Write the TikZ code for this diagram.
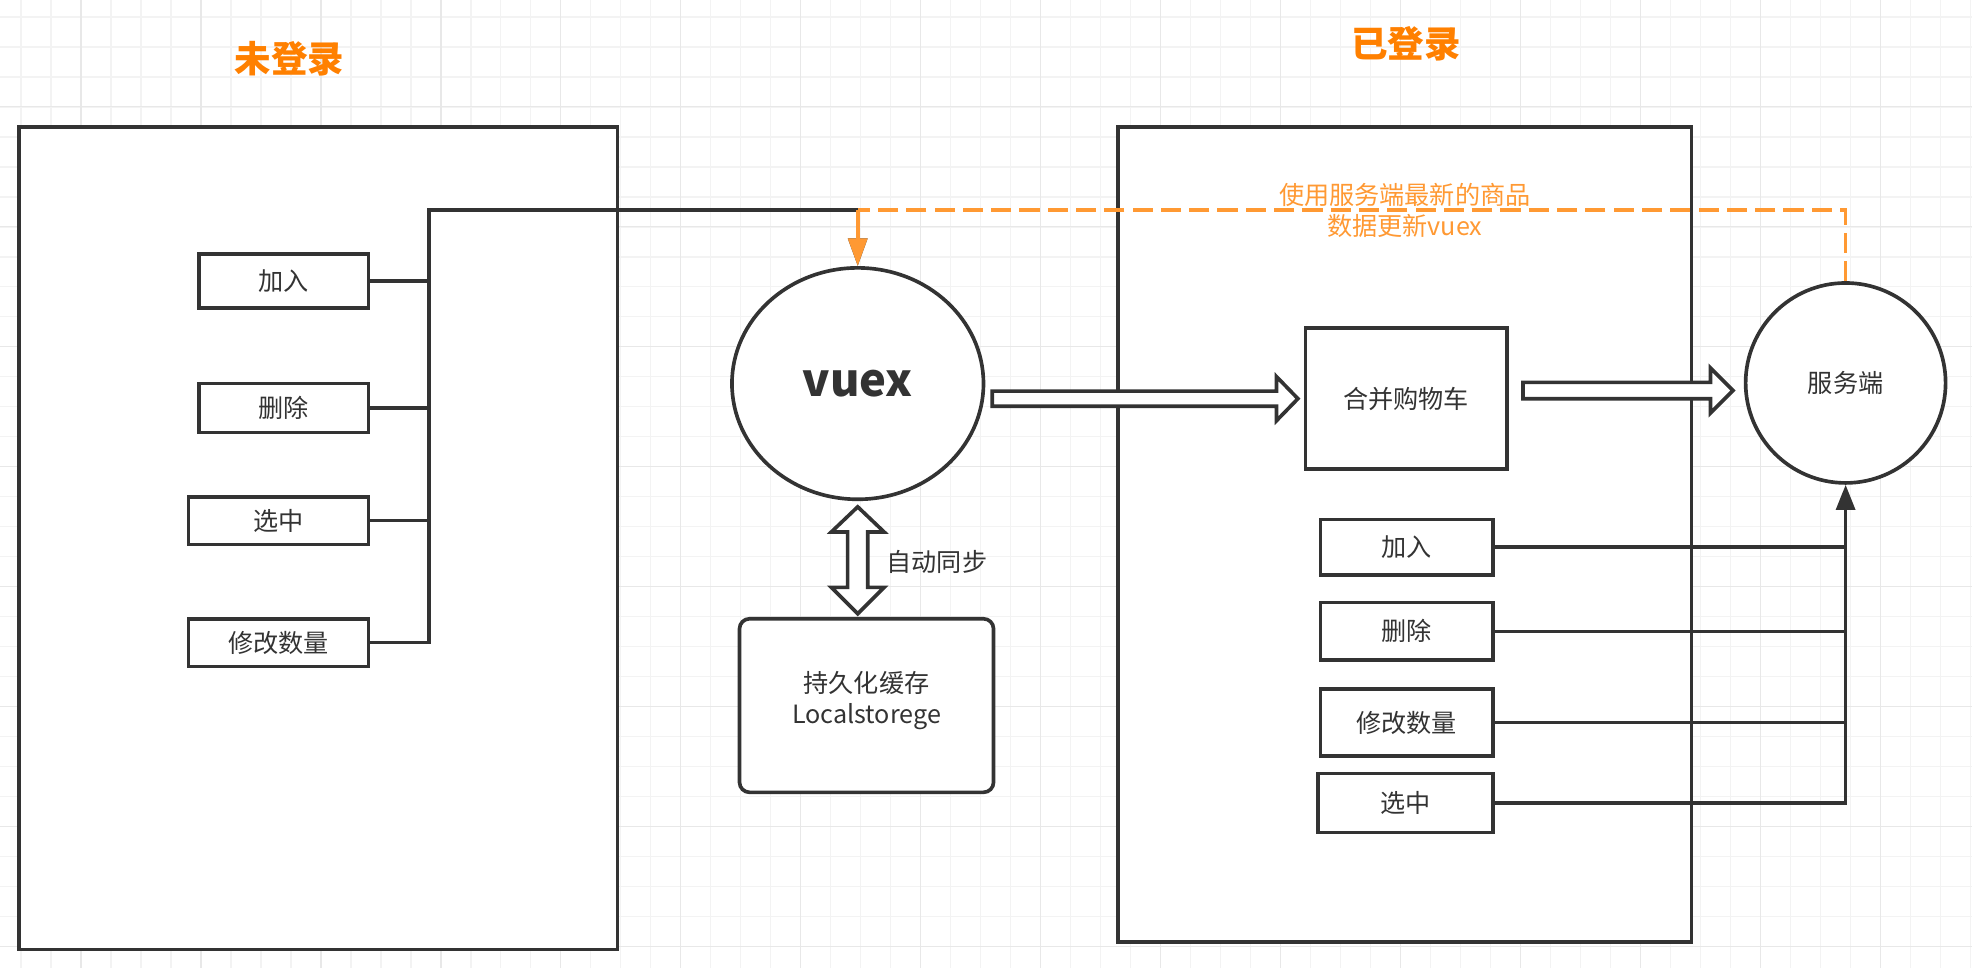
\documentclass[tikz,border=0pt]{standalone}
\usepackage{fontspec}
\setmainfont{Noto Sans CJK SC}
\usetikzlibrary{calc,arrows.meta,shapes.geometric}
\definecolor{ink}{HTML}{333333}
\definecolor{org}{HTML}{FF9933}
\definecolor{orgT}{HTML}{FF8000}
\definecolor{gridminor}{HTML}{F3F3F3}
\definecolor{gridmajor}{HTML}{E8E8E8}
\tikzset{
  lw/.style={line width=2.9pt},
  bigbox/.style={draw=ink, fill=white, lw, inner sep=0pt},
  smallbox/.style={draw=ink, fill=white, lw, inner sep=0pt, text=ink, font=\fontsize{20}{24}\selectfont},
  circ/.style={ellipse, draw=ink, fill=white, lw, inner sep=0pt, text=ink},
  wire/.style={draw=ink, lw},
  title/.style={text=orgT, font=\fontsize{29}{34}\selectfont\bfseries},
  blockarrow/.style={draw=ink, fill=white, lw, line join=miter},
}
\begin{document}
\begin{tikzpicture}[x=1pt,y=-1pt]
\useasboundingbox (0,0) rectangle (1568,770);
\fill[white] (0,0) rectangle (1568,770);
% grid
\foreach \i in {0,...,65} {\draw[gridminor, line width=0.9pt] ({16.7+23.85*\i},0) -- ++(0,770);}
\foreach \i in {0,...,32} {\draw[gridminor, line width=0.9pt] (0,{13.5+23.85*\i}) -- ++(1568,0);}
\foreach \i in {0,...,16} {\draw[gridmajor, line width=0.9pt] ({64.4+95.4*\i},0) -- ++(0,770);}
\foreach \i in {0,...,7} {\draw[gridmajor, line width=0.9pt] (0,{85+95.4*\i}) -- ++(1568,0);}

% titles
\node[title] (t1) at (230,47) {未登录};
\node[title] (t2) at (1118,35) {已登录};

% big boxes
\node[bigbox, minimum width=476pt, minimum height=654pt] (L) at (253,428) {};
\node[bigbox, minimum width=456pt, minimum height=648pt] (R) at (1117,425) {};

% left small boxes
\node[smallbox, minimum width=135pt, minimum height=43pt] (lj) at (225.5,223.5) {加入};
\node[smallbox, minimum width=135pt, minimum height=39pt] (ls) at (225.5,324.5) {删除};
\node[smallbox, minimum width=143pt, minimum height=38pt] (lx) at (221.5,414) {选中};
\node[smallbox, minimum width=143pt, minimum height=38pt] (lm) at (221.5,511) {修改数量};

% vuex and storage
\node[circ, minimum width=200pt, minimum height=184pt, font=\fontsize{36}{40}\selectfont\bfseries] (vuex) at (682,305) {vuex};
\node[smallbox, rounded corners=8pt, minimum width=202pt, minimum height=138pt, align=center, font=\fontsize{20}{25}\selectfont] (store) at (689,561) {持久化缓存\\[-1pt]Localstorege\\[-12pt]\mbox{}};
\node[text=ink, font=\fontsize{20}{24}\selectfont] (sync) at (745,447) {自动同步};

% right side
\node[smallbox, minimum width=160pt, minimum height=112pt] (merge) at (1118,317) {合并购物车};
\node[circ, minimum width=159pt, minimum height=159pt, font=\fontsize{20}{24}\selectfont] (srv) at (1467.5,304.5) {服务端};
\node[smallbox, minimum width=137pt, minimum height=44pt] (rj) at (1118.5,435) {加入};
\node[smallbox, minimum width=137pt, minimum height=46pt] (rs) at (1118.5,502) {删除};
\node[smallbox, minimum width=137pt, minimum height=53pt] (rm) at (1118.5,574.5) {修改数量};
\node[smallbox, minimum width=139pt, minimum height=47pt] (rx) at (1117.5,638.5) {选中};

% left wiring
\coordinate (busT) at (341,167);
\coordinate (corner) at (vuex.north |- busT);
\draw[wire] (lj.east) -- (lj.east -| busT);
\draw[wire] (ls.east) -- (ls.east -| busT);
\draw[wire] (lx.east) -- (lx.east -| busT);
\draw[wire] (lm.east) -- (lm.east -| busT) -- (busT) -- (corner);
\draw[wire, -{Triangle[length=22pt,width=15pt]}] (corner) -- (vuex.north);

% orange feedback
\draw[org, lw, dash pattern=on 16pt off 6.5pt] (srv.north) -- (srv.north |- busT) -- (corner);
\draw[org, lw, -{Triangle[length=22pt,width=15pt]}] (corner) -- (vuex.north);
\node[text=org, align=center, font=\fontsize{20}{25}\selectfont] (lbl) at (1117,167.5) {使用服务端最新的商品\\数据更新vuex};

% right wiring
\draw[wire] (rj.east) -- (rj.east -| srv.south);
\draw[wire] (rs.east) -- (rs.east -| srv.south);
\draw[wire] (rm.east) -- (rm.east -| srv.south);
\draw[wire, -{Triangle[length=20pt,width=15pt]}] (rx.east) -| (srv.south);

% block arrows
\coordinate (a1s) at (789,317);
\coordinate (a1e) at (1032,317);
\draw[blockarrow] ($(a1s)+(0,-6)$) -- ($(a1e)+(-17,-6)$) -- ($(a1e)+(-17,-17.5)$) -- (a1e) -- ($(a1e)+(-17,17.5)$) -- ($(a1e)+(-17,6)$) -- ($(a1s)+(0,6)$) -- cycle;
\coordinate (a2s) at (1211,310.5);
\coordinate (a2e) at (1378,310.5);
\draw[blockarrow] ($(a2s)+(0,-6.5)$) -- ($(a2e)+(-18,-6.5)$) -- ($(a2e)+(-18,-18)$) -- (a2e) -- ($(a2e)+(-18,18)$) -- ($(a2e)+(-18,6.5)$) -- ($(a2s)+(0,6.5)$) -- cycle;
\coordinate (dt) at (682,403);
\coordinate (db) at (682,488);
\draw[blockarrow] (dt) -- ($(dt)+(21,20)$) -- ($(dt)+(8,20)$) -- ($(db)+(8,-21)$) -- ($(db)+(21,-21)$) -- (db) -- ($(db)+(-21,-21)$) -- ($(db)+(-8,-21)$) -- ($(dt)+(-8,20)$) -- ($(dt)+(-21,20)$) -- cycle;
\end{tikzpicture}
\end{document}
